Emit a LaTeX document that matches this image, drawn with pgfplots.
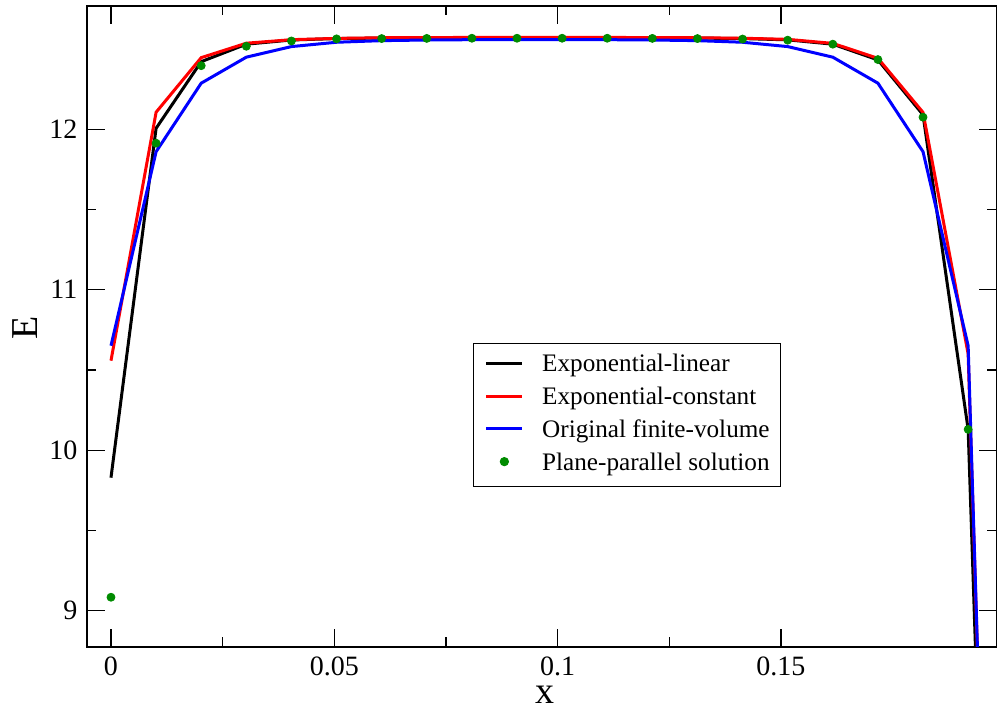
\documentclass[border=0pt]{standalone}
\usepackage{fontspec}
\setmainfont{Liberation Serif}
\usepackage{pgfplots}
\usepackage{pgfplotstable}
\pgfplotsset{compat=1.18}
\definecolor{ppgreen}{RGB}{0,139,0}

% x = cell position, E for the three schemes and the plane-parallel reference
\pgfplotstableread{
x       elin    econ    ofv
0.0000  9.829   10.558  10.651
0.0101  12.006  12.106  11.860
0.0202  12.421  12.446  12.287
0.0303  12.530  12.536  12.449
0.0404  12.556  12.558  12.515
0.0505  12.565  12.566  12.542
0.0606  12.568  12.570  12.552
0.0707  12.570  12.571  12.556
0.0808  12.571  12.572  12.558
0.0909  12.571  12.572  12.559
0.1010  12.571  12.572  12.559
0.1111  12.571  12.572  12.558
0.1212  12.570  12.571  12.556
0.1313  12.568  12.570  12.552
0.1414  12.565  12.567  12.542
0.1515  12.557  12.560  12.515
0.1616  12.530  12.535  12.449
0.1717  12.432  12.442  12.287
0.1818  12.090  12.105  11.860
0.1919  10.130  10.600  10.651
0.2020  1.750   1.600   1.520
}\schemes

\pgfplotstableread{
x       pp
0.0000  9.084
0.0101  11.913
0.0202  12.396
0.0303  12.517
0.0404  12.550
0.0505  12.563
0.0606  12.565
0.0707  12.566
0.0808  12.567
0.0909  12.567
0.1010  12.567
0.1111  12.567
0.1212  12.566
0.1313  12.565
0.1414  12.562
0.1515  12.555
0.1616  12.530
0.1717  12.434
0.1818  12.075
0.1919  10.130
}\planepar

\begin{document}
\begin{tikzpicture}
\useasboundingbox (-43.5pt,-31.65pt) rectangle (455pt,323.35pt);
\begin{axis}[
  at={(0,0)}, anchor=south west,
  scale only axis,
  width=454.75pt, height=320.35pt,
  xmin=-0.00537, xmax=0.19825,
  ymin=8.776, ymax=12.768,
  xtick={0,0.05,0.1,0.15},
  xticklabels={0,0.05,0.1,0.15},
  ytick={9,10,11,12},
  minor tick num=1,
  scaled x ticks=false,
  /pgf/number format/assume math mode=true,
  tick align=inside,
  major tick length=9pt,
  minor tick length=4.7pt,
  every tick/.style={black, line width=0.6pt},
  axis line style={line width=1pt},
  tick label style={font=\fontsize{14}{16}\selectfont},
  xticklabel style={inner sep=0pt, yshift=-5pt},
  yticklabel style={inner sep=0pt, xshift=-4.65pt},
  xlabel={x},
  ylabel={E},
  xlabel style={at={(axis description cs:0.5035,-0.06134)}, anchor=north,
    inner sep=0pt, font=\fontsize{19}{22}\selectfont},
  ylabel style={at={(axis description cs:-0.06762,0.498)}, anchor=center,
    inner sep=0pt, font=\fontsize{19}{22}\selectfont},
  legend image code/.code={\draw[#1] (0pt,1.3pt) -- (18pt,1.3pt);},
  legend style={
    at={(0.4247,0.4736)}, anchor=north west,
    draw=black, line width=0.6pt,
    inner xsep=5.5pt, inner ysep=5pt,
    row sep=4.4pt, column sep=9.15pt,
    font=\fontsize{12.6}{15}\selectfont,
    nodes={inner sep=0pt, text height=9pt, text depth=3pt},
  },
  legend cell align=left,
  clip=true,
]
\addplot[black, line width=1.5pt] table[x=x, y=elin] {\schemes};
\addlegendentry{Exponential-linear}
\addplot[red, line width=1.5pt] table[x=x, y=econ] {\schemes};
\addlegendentry{Exponential-constant}
\addplot[blue, line width=1.5pt] table[x=x, y=ofv] {\schemes};
\addlegendentry{Original finite-volume}
\addplot[only marks, mark=*, mark size=2pt, ppgreen,
  legend image code/.code={\fill[ppgreen] (9pt,1.3pt) circle (2pt);}]
  table[x=x, y=pp] {\planepar};
\addlegendentry{Plane-parallel solution}
\end{axis}
\end{tikzpicture}
\end{document}
